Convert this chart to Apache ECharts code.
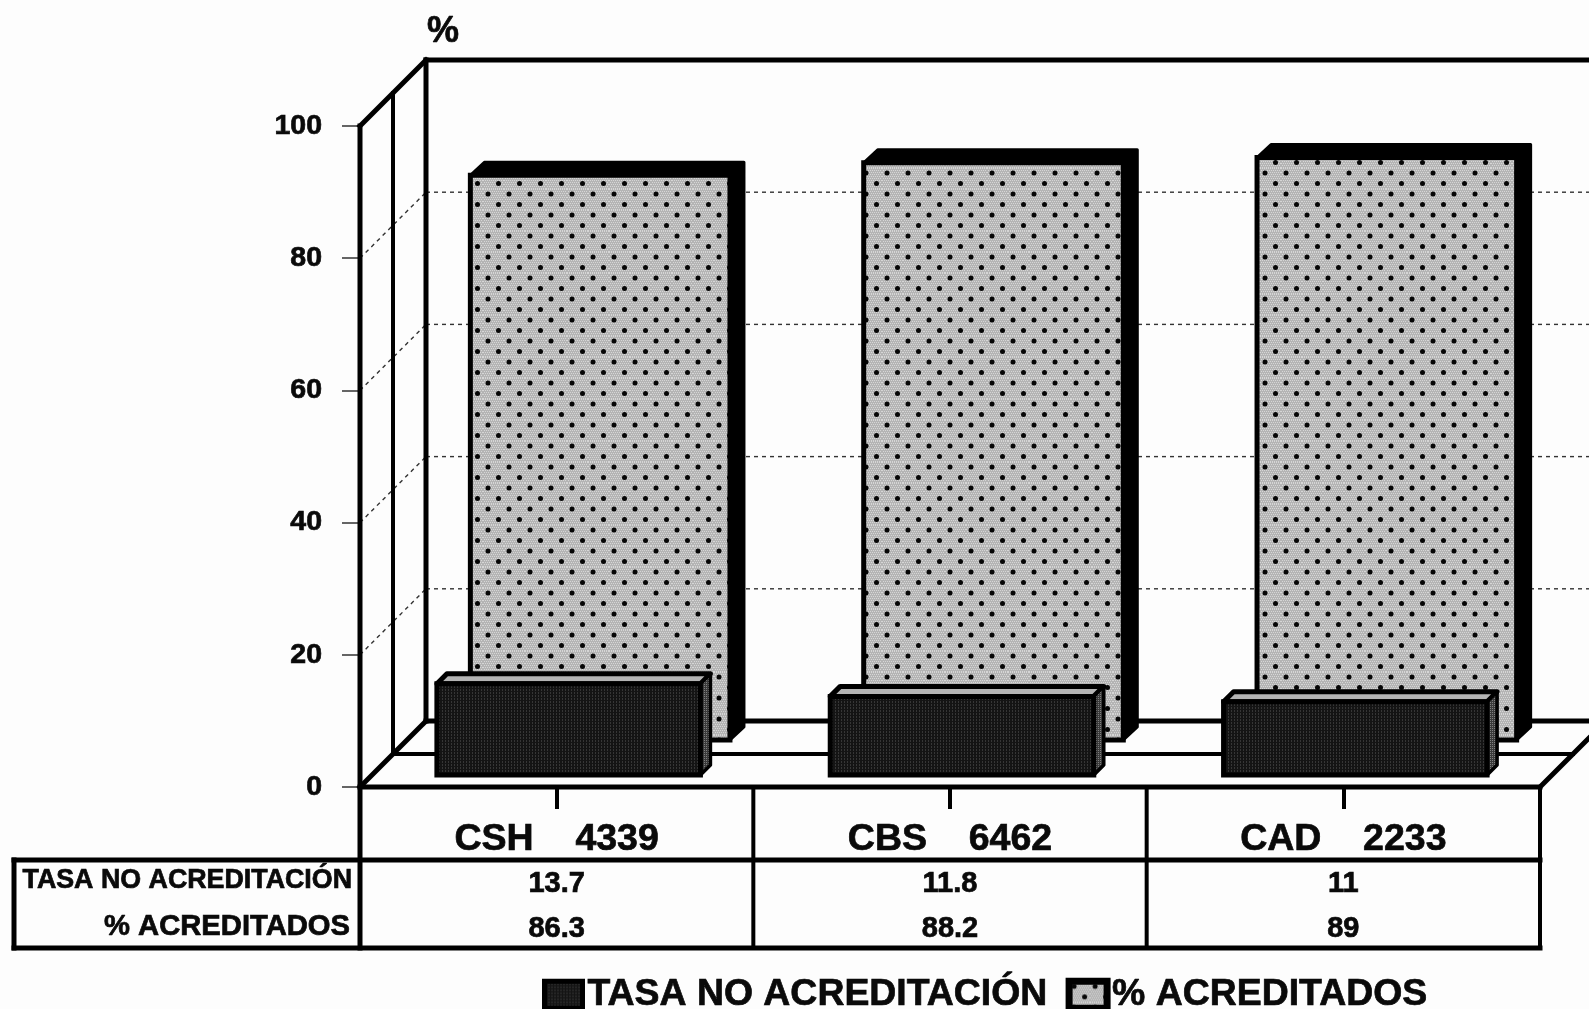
<!DOCTYPE html>
<html><head><meta charset="utf-8">
<style>html,body{margin:0;padding:0;background:#fdfdfd}#c{width:1589px;height:1009px}</style>
<script src="https://cdn.jsdelivr.net/npm/echarts@6/dist/echarts.min.js"></script>
</head><body><div id="c"></div>
<script>
const categories = ['CSH', 'CBS', 'CAD'];
const totals = ['4339', '6462', '2233'];
const tasaNoAcreditacion = [13.7, 11.8, 11];
const acreditados = [86.3, 88.2, 89];
const seriesNames = ['TASA NO ACREDITACIÓN', '% ACREDITADOS'];
const wallTicks = [20, 40, 60, 80];

const FONT = '"Liberation Sans", Arial, sans-serif';
const INK = '#0a0a0a';
const HEAVY = { textBorderColor: INK, textBorderWidth: 0.7 };
const DEPTH = 66, MID = 33;

function makePattern(size, draw) {
  const c = document.createElement('canvas');
  c.width = c.height = size;
  draw(c.getContext('2d'), size);
  return { image: c, repeat: 'repeat' };
}
const dotted = makePattern(21, (g, s) => {
  g.fillStyle = '#b4b4b4'; g.fillRect(0, 0, s, s);
  g.fillStyle = '#d6d6d6';
  for (let y = 0; y < s; y += 2) for (let x = (y % 4) / 2; x < s; x += 2) g.fillRect(x, y, 1, 1);
  g.fillStyle = '#060606';
  [[5, 5], [15.5, 15.5]].forEach(p => { g.beginPath(); g.arc(p[0], p[1], 2.5, 0, 7); g.fill(); });
});
const dark = makePattern(3, (g, s) => {
  g.fillStyle = '#141414'; g.fillRect(0, 0, s, s);
  g.fillStyle = '#363636'; g.fillRect(1, 0, 1, 1); g.fillRect(1, 2, 1, 1);
});
const darkSide = makePattern(2, (g, s) => {
  g.fillStyle = '#3a3a3a'; g.fillRect(0, 0, s, s);
  g.fillStyle = '#808080'; g.fillRect(0, 0, 1, 1);
});

function line(x1, y1, x2, y2, w, extra) {
  return { type: 'line', shape: { x1, y1, x2, y2 }, style: Object.assign({ stroke: '#000', lineWidth: w, lineCap: 'square' }, extra || {}) };
}
function poly(points, style) {
  return { type: 'polygon', shape: { points }, style };
}
function text(t, x, y, size, align) {
  return { type: 'text', style: Object.assign({ text: t, x, y, fill: INK, fontFamily: FONT, fontWeight: 'bold', fontSize: size, align: align || 'center', verticalAlign: 'middle', stroke: INK, lineWidth: 0.7 }) };
}

function renderFrame(params, api) {
  const cs = params.coordSys;
  const L = cs.x, R = cs.x + cs.width, T = cs.y, B = cs.y + cs.height;
  const cell = cs.width / categories.length;
  const rowTop = B + 73, rowBottom = B + 161;
  const ch = [];
  wallTicks.forEach(v => {
    const y = api.coord([0, v])[1];
    const dash = { stroke: '#333', lineDash: [4, 4], lineCap: 'butt' };
    ch.push(line(L, y, L + DEPTH, y - DEPTH, 1.4, dash));
    ch.push(line(L + DEPTH, y - DEPTH, R + DEPTH, y - DEPTH, 1.4, dash));
  });
  ch.push(line(L, T, L, rowBottom, 5));
  ch.push(line(L + MID, T - MID, L + MID, B - MID, 4));
  ch.push(line(L + DEPTH, T - DEPTH, L + DEPTH, B - DEPTH, 5));
  ch.push(line(L, T, L + DEPTH, T - DEPTH, 5));
  ch.push(line(L + DEPTH, T - DEPTH, R + DEPTH, T - DEPTH, 5));
  ch.push(line(L, B, R, B, 5));
  ch.push(line(L + MID, B - MID, R + MID, B - MID, 4));
  ch.push(line(L + DEPTH, B - DEPTH, R + DEPTH, B - DEPTH, 5));
  ch.push(line(L, B, L + DEPTH, B - DEPTH, 5));
  ch.push(line(R, B, R + DEPTH, B - DEPTH, 5));
  // data table
  for (let i = 1; i <= categories.length; i++) ch.push(line(L + cell * i, B, L + cell * i, rowBottom, 4));
  ch.push(line(14, rowTop, R, rowTop, 5));
  ch.push(line(14, rowBottom, R, rowBottom, 5));
  ch.push(line(14, rowTop, 14, rowBottom, 5));
  return { type: 'group', children: ch };
}

function renderRear(params, api) {
  const i = api.value(0), v = api.value(1);
  const base = api.coord([i, 0]), top = api.coord([i, v]);
  const w = api.size([1, 0])[0] * 0.66;
  const x0 = base[0] + 43.5 - w / 2, x1 = x0 + w;
  const y1 = base[1] - 47, y0 = y1 - (base[1] - top[1]) * 0.99;
  const dx = 14, dy = 13;
  return { type: 'group', children: [
    poly([[x0, y0], [x0 + dx, y0 - dy], [x1 + dx, y0 - dy], [x1 + dx, y1 - dy], [x1, y1], [x1, y0]], { fill: '#000', stroke: '#000', lineWidth: 3, lineJoin: 'round' }),
    { type: 'rect', shape: { x: x0, y: y0, width: w, height: y1 - y0 }, style: { fill: dotted, stroke: '#000', lineWidth: 5 } }
  ]};
}

function renderFront(params, api) {
  const i = api.value(0), v = api.value(1);
  const base = api.coord([i, 0]), top = api.coord([i, v]);
  const w = api.size([1, 0])[0] * 0.67;
  const x0 = base[0] + 12 - w / 2, x1 = x0 + w;
  const y1 = base[1] - 12, y0 = y1 - (base[1] - top[1]) * 1.008;
  const dx = 10, dy = 10;
  return { type: 'group', children: [
    poly([[x0, y0], [x0 + dx, y0 - dy], [x1 + dx, y0 - dy], [x1, y0]], { fill: '#b4b4b4', stroke: '#000', lineWidth: 5, lineJoin: 'round' }),
    poly([[x1, y0], [x1 + dx, y0 - dy], [x1 + dx, y1 - dy], [x1, y1]], { fill: darkSide, stroke: '#000', lineWidth: 3.5, lineJoin: 'round' }),
    { type: 'rect', shape: { x: x0, y: y0, width: w, height: y1 - y0 }, style: { fill: dark, stroke: '#000', lineWidth: 5 } }
  ]};
}

function renderTable(params, api) {
  const cs = params.coordSys;
  const B = cs.y + cs.height;
  const i = api.value(0);
  const x = api.coord([i, 0])[0];
  const children = [
    text(String(tasaNoAcreditacion[i]), x, B + 97, 29),
    text(String(acreditados[i]), x, B + 142, 29)
  ];
  if (i === 0) {
    children.push(text(seriesNames[0], cs.x - 8, B + 94, 26.8, 'right'));
    children.push(text(seriesNames[1], cs.x - 10, B + 140, 29.2, 'right'));
  }
  return { type: 'group', children };
}

const chart = echarts.init(document.getElementById('c'), null, { renderer: 'canvas' });
chart.setOption({
  animation: false,
  backgroundColor: '#fdfdfd',
  title: { text: '%', left: 427, top: 14, padding: 0, textStyle: Object.assign({ fontFamily: FONT, fontWeight: 'bold', fontSize: 36, color: INK }, HEAVY) },
  legend: {
    left: 542, top: 976, itemWidth: 38, itemHeight: 27, itemGap: 18, padding: 0, selectedMode: false,
    textStyle: Object.assign({ fontFamily: FONT, fontWeight: 'bold', fontSize: 37.4, color: INK, padding: [2, 0, 0, 0] }, HEAVY),
    data: [
      { name: seriesNames[0], icon: 'rect', itemStyle: { color: dark, borderColor: '#000', borderWidth: 5 } },
      { name: seriesNames[1], icon: 'rect', itemStyle: { color: dotted, borderColor: '#000', borderWidth: 7 } }
    ]
  },
  grid: { left: 360, top: 126, width: 1180, height: 661, containLabel: false },
  xAxis: {
    type: 'category',
    data: categories.map((c, i) => c + '    ' + totals[i]),
    boundaryGap: true,
    axisLine: { show: false },
    axisTick: { show: true, alignWithLabel: true, length: 22, lineStyle: { color: '#000', width: 4 } },
    axisLabel: Object.assign({ margin: 34, fontFamily: FONT, fontWeight: 'bold', fontSize: 37.5, color: INK, interval: 0 }, HEAVY)
  },
  yAxis: {
    type: 'value', min: 0, max: 100, interval: 20,
    axisLine: { show: false },
    axisTick: { show: true, length: 18, lineStyle: { color: '#333', width: 1.5 } },
    splitLine: { show: false },
    axisLabel: Object.assign({ margin: 38, fontFamily: FONT, fontWeight: 'bold', fontSize: 28.5, color: INK, padding: [3, 0, 0, 0] }, HEAVY)
  },
  series: [
    { type: 'custom', name: 'frame', renderItem: renderFrame, data: [[0, 0]], z: 1, silent: true },
    { type: 'custom', name: seriesNames[1], renderItem: renderRear, data: acreditados.map((v, i) => [i, v]), z: 2, itemStyle: { color: dotted } },
    { type: 'custom', name: seriesNames[0], renderItem: renderFront, data: tasaNoAcreditacion.map((v, i) => [i, v]), z: 3, itemStyle: { color: dark } },
    { type: 'custom', name: 'table', renderItem: renderTable, data: categories.map((c, i) => [i, 0]), z: 4, silent: true }
  ]
});
</script></body></html>
